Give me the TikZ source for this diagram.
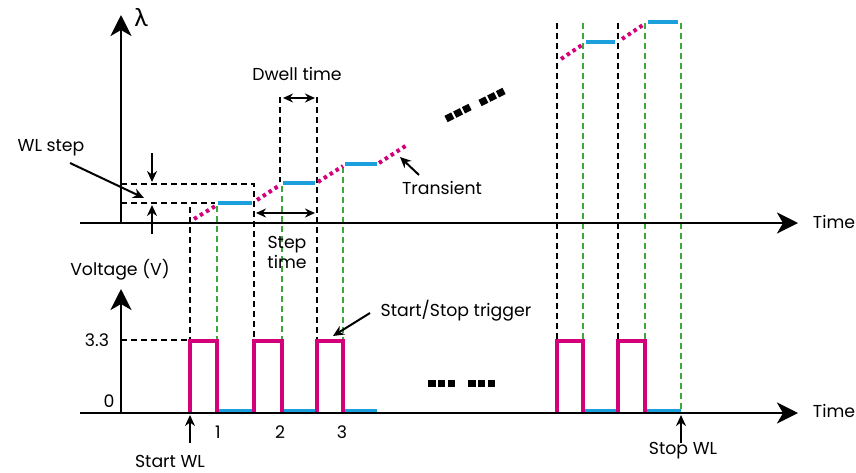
\documentclass[tikz,border=0pt]{standalone}
\usepackage{fontspec}
\setmainfont{Poppins}
\newfontfamily\greekfont{Lato}
\usetikzlibrary{arrows.meta}
\definecolor{mag}{HTML}{D4007A}
\definecolor{sky}{HTML}{1CA0DD}
\definecolor{grn}{HTML}{3DA83A}
\tikzset{
  axisline/.style={line width=2.8pt,-{Stealth[length=21pt,width=21pt,inset=6pt]}},
  blackdash/.style={black,line width=2.3pt,dash pattern=on 6pt off 4pt},
  greendash/.style={grn,line width=2.3pt,dash pattern=on 6pt off 4pt},
  level/.style={sky,line width=4pt},
  pulse/.style={mag,line width=3.3pt},
  transient/.style={mag,line width=4pt,dash pattern=on 3.5pt off 3.5pt},
  pointer/.style={line width=2pt,-{Stealth[length=11pt,width=10pt]}},
  span/.style={line width=2pt,{Stealth[length=10pt,width=9pt]}-{Stealth[length=10pt,width=9pt]}},
  label/.style={font=\fontsize{17.3}{20}\selectfont,inner sep=0pt},
  ellipsis/.style={line width=7pt,dash pattern=on 7.5pt off 2.25pt}
}
\begin{document}
\begin{tikzpicture}[x=1pt,y=-1pt]
\useasboundingbox (0,0) rectangle (856,472);

% ---------- coordinates ----------
\coordinate (lamO) at (121,223);
\coordinate (lamTop) at (121,15);
\coordinate (t1L) at (80,223);
\coordinate (t1R) at (798,223);
\coordinate (vO) at (121,413);
\coordinate (vTop) at (121,289);
\coordinate (t2L) at (80,413);
\coordinate (t2R) at (798,413);

% ---------- black dashed guides ----------
\draw[blackdash] (121,184) -- (254,184) -- (254,340);
\draw[blackdash] (121,203) -- (215,203);
\draw[blackdash] (190,207) -- (190,340);
\draw[blackdash] (280,97) -- (280,182);
\draw[blackdash] (317,97) -- (317,340);
\draw[blackdash] (557,23) -- (557,340);
\draw[blackdash] (618,23) -- (618,340);
\draw[blackdash] (121,340) -- (190,340);

% ---------- green dashed guides ----------
\draw[greendash] (217,206) -- (217,340);
\draw[greendash] (282,186) -- (282,340);
\draw[greendash] (343,167) -- (343,340);
\draw[greendash] (583,23) -- (583,340);
\draw[greendash] (645,23) -- (645,340);
\draw[greendash] (681,23) -- (681,413);

% ---------- wavelength levels ----------
\draw[level] (218,203) -- (252,203);
\draw[level] (283,183) -- (315,183);
\draw[level] (345,164) -- (377,164);
\draw[level] (586,42) -- (615,42);
\draw[level] (648,22) -- (678,22);

% ---------- transients ----------
\draw[transient] (194,219) -- (217,205);
\draw[transient] (257,200) -- (280,185);
\draw[transient] (318,182) -- (343,166);
\draw[transient] (379,163) -- (407,145);
\draw[transient] (561,59) -- (582,45);
\draw[transient] (622,39) -- (643,25);

% ---------- bottom levels ----------
\draw[level] (217,411) -- (253,411);
\draw[level] (282,411) -- (316,411);
\draw[level] (343,411) -- (377,411);
\draw[level] (583,411) -- (618,411);
\draw[level] (646,411) -- (681,411);

% ---------- trigger pulses ----------
\draw[pulse] (190,413) -- (190,341) -- (217,341) -- (217,413);
\draw[pulse] (254,413) -- (254,341) -- (282,341) -- (282,413);
\draw[pulse] (317,413) -- (317,341) -- (343,341) -- (343,413);
\draw[pulse] (557,413) -- (557,341) -- (583,341) -- (583,413);
\draw[pulse] (618,413) -- (618,341) -- (645,341) -- (645,413);

% ---------- axes ----------
\draw[axisline] (lamO) -- (lamTop);
\draw[axisline] (t1L) -- (t1R);
\draw[axisline] (vO) -- (vTop);
\draw[axisline] (t2L) -- (t2R);

% ---------- ellipses ----------
\draw[ellipsis] (446,119) -- (470,107);
\draw[ellipsis] (480,103) -- (504,91);
\draw[ellipsis] (428,383) -- (455,383);
\draw[ellipsis] (468,383) -- (495,383);

% ---------- labels ----------
\node[label] (lam) at (141,18) {\greekfont\fontsize{25}{27}\selectfont λ};
\node[label] (time1) at (834,222) {Time};
\node[label] (time2) at (834,411) {Time};
\node[label] (volt) at (120,270) {Voltage (V)};
\node[label] (v33) at (97,340) {3.3};
\node[label] (v0) at (109,401) {0};
\node[label] (n1) at (218,432) {1};
\node[label] (n2) at (280,432) {2};
\node[label] (n3) at (342,432) {3};
\node[label] (dwell) at (297,74) {Dwell time};
\node[label,align=center] (step) at (287,252) {Step\\time};
\node[label] (wlstep) at (51,148) {WL step};
\node[label] (trans) at (442,188) {Transient};
\node[label] (trig) at (456,311) {Start/Stop trigger};
\node[label] (startwl) at (170,461) {Start WL};
\node[label] (stopwl) at (683,451) {Stop WL};

% ---------- pointer arrows ----------
\coordinate (dwA) at (283,98);
\coordinate (dwB) at (315,98);
\draw[span] (dwA) -- (dwB);
\coordinate (stA) at (256,213);
\coordinate (stB) at (315,213);
\draw[span] (stA) -- (stB);

\coordinate (wlT) at (70,163);
\coordinate (wlH) at (144,198);
\draw[pointer] (wlT) -- (wlH);
\coordinate (dnT) at (152,153);
\coordinate (dnH) at (152,182);
\draw[pointer] (dnT) -- (dnH);
\coordinate (upT) at (152,234);
\coordinate (upH) at (152,205);
\draw[pointer] (upT) -- (upH);

\coordinate (trT) at (419,175);
\coordinate (trH) at (400,157);
\draw[pointer] (trT) -- (trH);
\coordinate (tgT) at (370,313);
\coordinate (tgH) at (333,336);
\draw[pointer] (tgT) -- (tgH);
\coordinate (swT) at (190,443);
\coordinate (swH) at (190,415);
\draw[pointer] (swT) -- (swH);
\coordinate (spT) at (681,443);
\coordinate (spH) at (681,415);
\draw[pointer] (spT) -- (spH);
\end{tikzpicture}
\end{document}
